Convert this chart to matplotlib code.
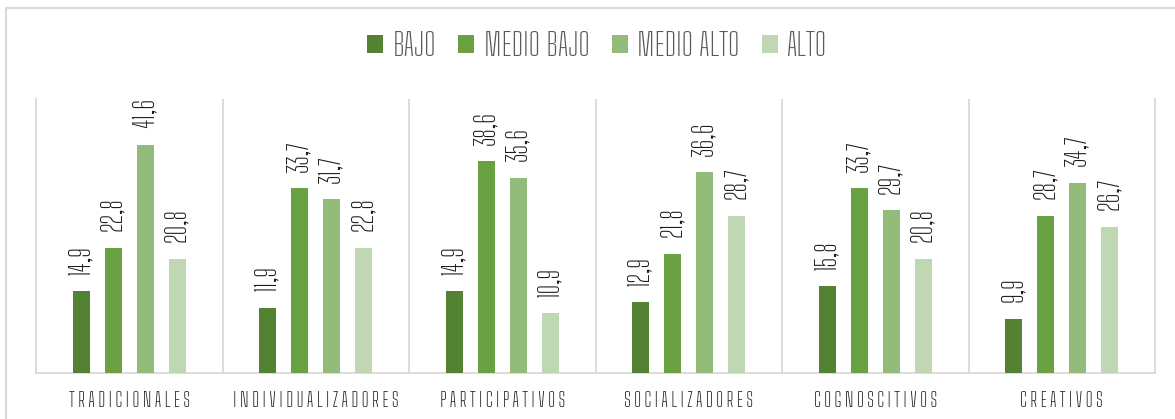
import matplotlib
matplotlib.use("Agg")
import matplotlib.pyplot as plt
import numpy as np
from matplotlib.patches import Rectangle

categories = ["TRADICIONALES", "INDIVIDUALIZADORES", "PARTICIPATIVOS",
              "SOCIALIZADORES", "COGNOSCITIVOS", "CREATIVOS"]
series_names = ["BAJO", "MEDIO BAJO", "MEDIO ALTO", "ALTO"]
bajo = [14.9, 11.9, 14.9, 12.9, 15.8, 9.9]
medio_bajo = [22.8, 33.7, 38.6, 21.8, 33.7, 28.7]
medio_alto = [41.6, 31.7, 35.6, 36.6, 29.7, 34.7]
alto = [20.8, 22.8, 10.9, 28.7, 20.8, 26.7]
colors = ["#548235", "#6aa142", "#93bc7a", "#c0d7b3"]

FONT = ["Big Shoulders Text", "DejaVu Sans"]

fig = plt.figure(figsize=(11.75, 4.19), dpi=100)
fig.patch.set_facecolor("white")
# outer chart border (partly cut by the image edge)
fig.add_artist(Rectangle((6 / 1175, -0.05), 1.1, 1 - 8 / 419 + 0.05,
                         transform=fig.transFigure, fill=False,
                         edgecolor="#d9d9d9", linewidth=1.5))

ax = fig.add_axes([36 / 1175, 1 - 373 / 419, (1155 - 36) / 1175, (373 - 99) / 419])
x = np.arange(len(categories))
width = 0.091
step = 0.172
all_series = [bajo, medio_bajo, medio_alto, alto]
for i, (name, vals, col) in enumerate(zip(series_names, all_series, colors)):
    offs = (i - 1.5) * step
    bars = ax.bar(x + offs, vals, width, color=col, label=name, zorder=3)
    for b, v in zip(bars, vals):
        ax.annotate(f"{v:.1f}".replace(".", ","),
                    (b.get_x() + b.get_width() / 2, b.get_height()),
                    xytext=(0, 12), textcoords="offset points",
                    rotation=90, ha="center", va="bottom",
                    fontsize=20, color="#1a1a1a", family=FONT, weight=600)

ax.set_xlim(-0.5, len(categories) - 0.5)
ax.set_ylim(0, 50)
ax.set_yticks([])
ax.set_xticks(x)
spaced = ["\u200a".join(c) for c in categories]
ax.set_xticklabels(spaced, fontsize=14.5, color="#1a1a1a", family=FONT, weight=600)
ax.tick_params(axis="x", length=0, pad=13)
for s in ["top"]:
    ax.spines[s].set_visible(False)
for s in ["left", "right", "bottom"]:
    ax.spines[s].set_color("#d9d9d9")
    ax.spines[s].set_linewidth(1.3)
for b in np.arange(0.5, len(categories) - 0.5, 1):
    ax.axvline(b, color="#d9d9d9", linewidth=1.3, zorder=1)

leg = fig.legend(loc="center", bbox_to_anchor=(597 / 1175, 1 - 46 / 419), ncol=4,
                 frameon=False, handlelength=0.5, handleheight=0.5,
                 handletextpad=0.3, columnspacing=0.7,
                 prop={"family": FONT, "size": 23, "weight": 600})
for t in leg.get_texts():
    t.set_color("#595959")

fig.savefig("out.png", dpi=100)
